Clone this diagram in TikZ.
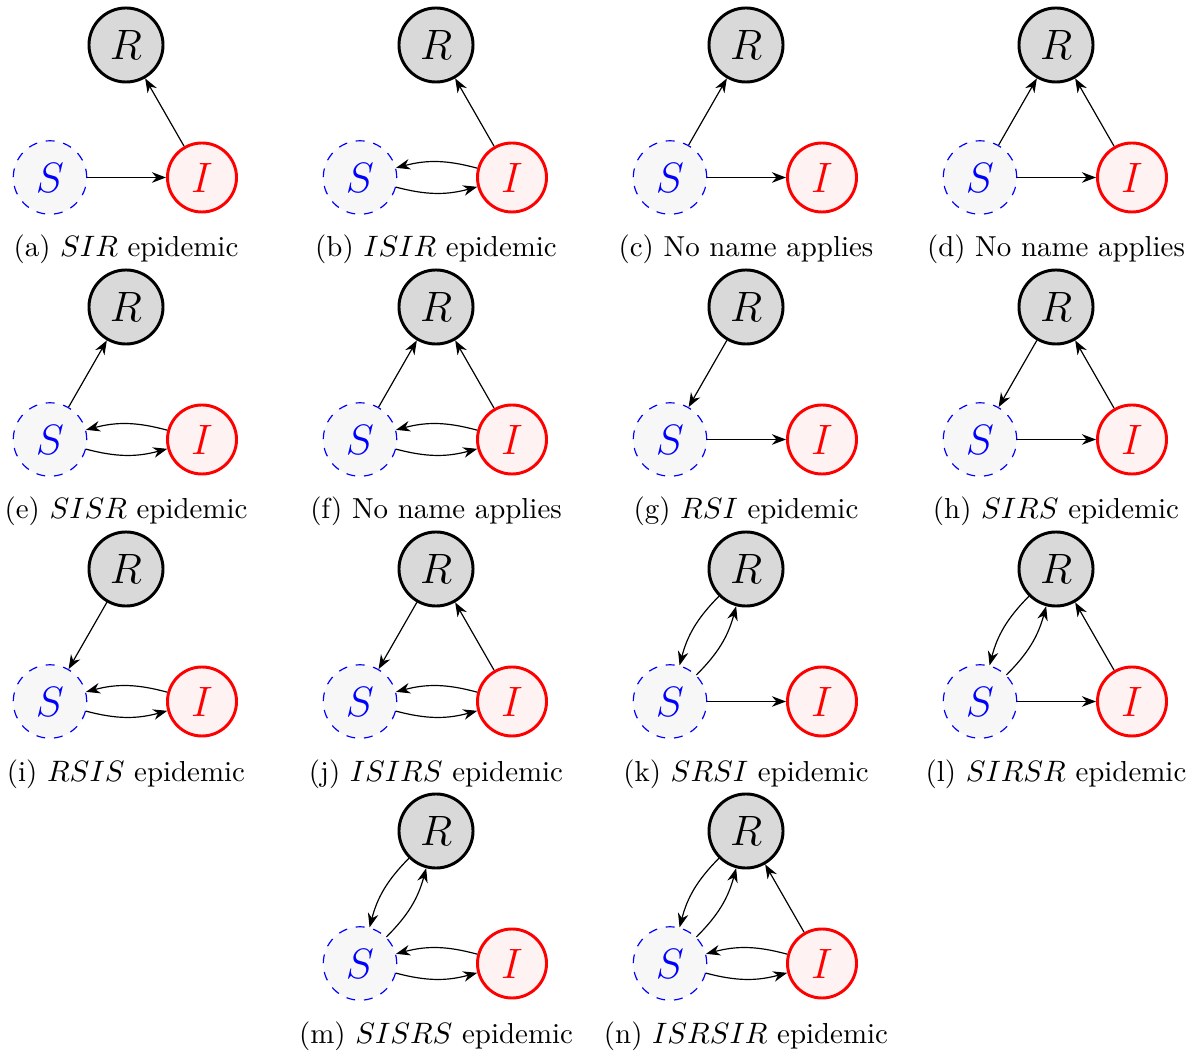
\documentclass[tikz,border=0pt]{standalone}
\usetikzlibrary{arrows.meta}
\tikzset{
  Rnode/.style={circle, draw=black, line width=1pt, fill=gray!30, minimum size=25.1pt, inner sep=0pt, font=\Large},
  Snode/.style={circle, draw=blue, dashed, line width=0.4pt, fill=black!3, minimum size=24.9pt, inner sep=0pt, text=blue, font=\Large},
  Inode/.style={circle, draw=red, line width=1pt, fill=red!5, minimum size=23.4pt, inner sep=0pt, text=red, font=\Large},
  flow/.style={-{Stealth}, line width=0.4pt},
  bflow/.style={-{Stealth}, line width=0.4pt, bend right=15},
  captext/.style={anchor=base, inner sep=0pt, font=\fontsize{9.8pt}{12pt}\selectfont},
}
\newcommand\epipanel[4]{%
  \begin{scope}[shift={(#2,#3)}]
    \node[Rnode] (#1R) at (0,0) {$R$};
    \node[Snode] (#1S) at (-76,132.5) {$S$};
    \node[Inode] (#1I) at (76,132.5) {$I$};
    \node[captext] (#1cap) at (0,212) {#4};
  \end{scope}%
}
\begin{document}
\begin{tikzpicture}[x=0.339pt, y=-0.339pt]
\useasboundingbox (0,0) rectangle (1194,1051);
% row 1
\epipanel{a}{126}{45}{(a) $SIR$ epidemic}
\draw[flow] (aS) -- (aI);
\draw[flow] (aI) -- (aR);
\epipanel{b}{436}{45}{(b) $ISIR$ epidemic}
\draw[bflow] (bI) to (bS);
\draw[bflow] (bS) to (bI);
\draw[flow] (bI) -- (bR);
\epipanel{c}{746}{45}{(c) No name applies}
\draw[flow] (cS) -- (cR);
\draw[flow] (cS) -- (cI);
\epipanel{d}{1056}{45}{(d) No name applies}
\draw[flow] (dS) -- (dR);
\draw[flow] (dS) -- (dI);
\draw[flow] (dI) -- (dR);
% row 2
\epipanel{e}{126}{307}{(e) $SISR$ epidemic}
\draw[flow] (eS) -- (eR);
\draw[bflow] (eI) to (eS);
\draw[bflow] (eS) to (eI);
\epipanel{f}{436}{307}{(f) No name applies}
\draw[flow] (fS) -- (fR);
\draw[bflow] (fI) to (fS);
\draw[bflow] (fS) to (fI);
\draw[flow] (fI) -- (fR);
\epipanel{g}{746}{307}{(g) $RSI$ epidemic}
\draw[flow] (gR) -- (gS);
\draw[flow] (gS) -- (gI);
\epipanel{h}{1056}{307}{(h) $SIRS$ epidemic}
\draw[flow] (hR) -- (hS);
\draw[flow] (hS) -- (hI);
\draw[flow] (hI) -- (hR);
% row 3
\epipanel{i}{126}{569}{(i) $RSIS$ epidemic}
\draw[flow] (iR) -- (iS);
\draw[bflow] (iI) to (iS);
\draw[bflow] (iS) to (iI);
\epipanel{j}{436}{569}{(j) $ISIRS$ epidemic}
\draw[flow] (jR) -- (jS);
\draw[bflow] (jI) to (jS);
\draw[bflow] (jS) to (jI);
\draw[flow] (jI) -- (jR);
\epipanel{k}{746}{569}{(k) $SRSI$ epidemic}
\draw[bflow] (kR) to (kS);
\draw[bflow] (kS) to (kR);
\draw[flow] (kS) -- (kI);
\epipanel{l}{1056}{569}{(l) $SIRSR$ epidemic}
\draw[bflow] (lR) to (lS);
\draw[bflow] (lS) to (lR);
\draw[flow] (lS) -- (lI);
\draw[flow] (lI) -- (lR);
% row 4
\epipanel{m}{436}{831}{(m) $SISRS$ epidemic}
\draw[bflow] (mR) to (mS);
\draw[bflow] (mS) to (mR);
\draw[bflow] (mI) to (mS);
\draw[bflow] (mS) to (mI);
\epipanel{n}{746}{831}{(n) $ISRSIR$ epidemic}
\draw[bflow] (nR) to (nS);
\draw[bflow] (nS) to (nR);
\draw[bflow] (nI) to (nS);
\draw[bflow] (nS) to (nI);
\draw[flow] (nI) -- (nR);
\end{tikzpicture}
\end{document}
